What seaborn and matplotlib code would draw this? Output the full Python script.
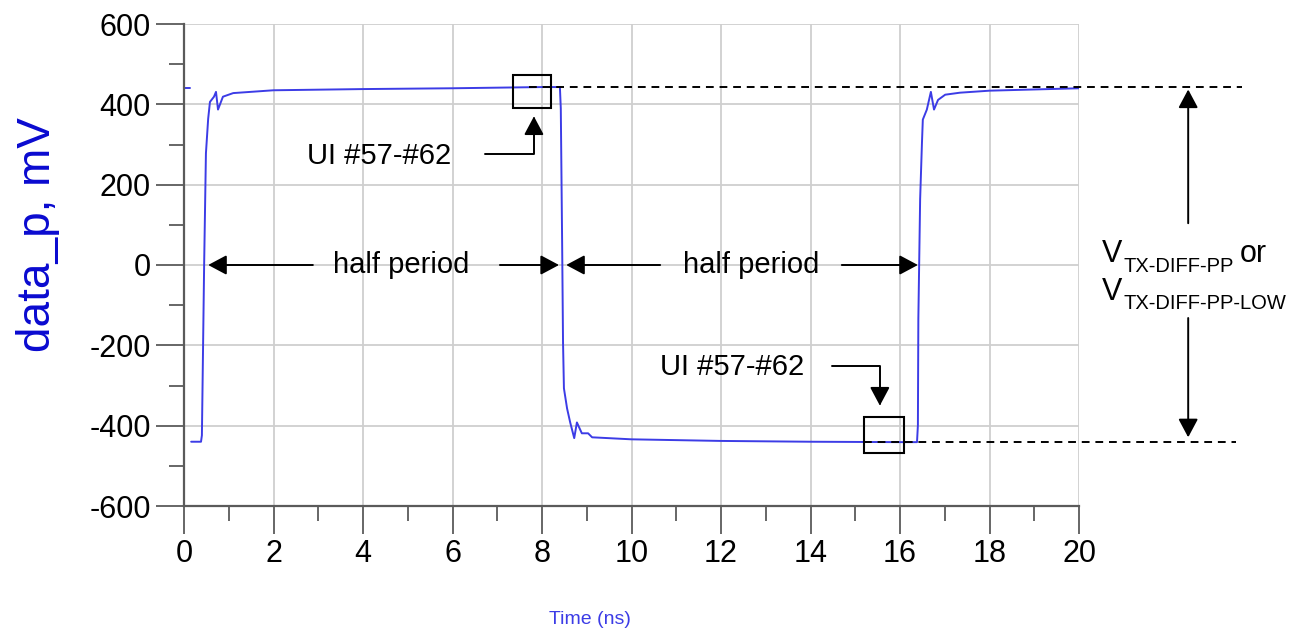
import numpy as np
import pandas as pd
import matplotlib
matplotlib.use("Agg")
import matplotlib.pyplot as plt
from matplotlib.patches import Rectangle
from matplotlib.ticker import MultipleLocator
import seaborn as sns

# waveform (ns, mV); segment 0 is the short stub at t=0
time_ns = [0.0, 0.13,
           0.16, 0.38, 0.40, 0.45, 0.49, 0.54, 0.58, 0.67, 0.715, 0.76, 0.87, 1.10, 2.0, 4.0, 6.0, 8.0,
           8.40, 8.42, 8.45, 8.47, 8.49, 8.56, 8.63, 8.72, 8.78, 8.89, 9.03, 9.12, 9.30, 10.0, 12.0, 14.0, 16.0,
           16.38, 16.40, 16.41, 16.45, 16.49, 16.51, 16.60, 16.69, 16.76, 16.85, 17.01, 17.34, 18.0, 19.0, 20.0]
data_p_mv = [440, 440,
             -440, -440, -424, 0, 278, 364, 406, 419, 431, 387, 419, 428, 435, 438, 440, 443,
             443, 390, 55, -193, -307, -357, -392, -431, -392, -419, -419, -429, -430, -434, -438, -440, -441,
             -441, -399, -134, 164, 302, 362, 387, 431, 387, 411, 424, 429, 434, 437, 440]
segment = [0, 0] + [1] * (len(time_ns) - 2)

x_ticks = list(range(0, 21, 2))
y_ticks = list(range(-600, 601, 200))
v_high, v_low = 442, -440
box_ui = [(7.35, 390, 0.85, 83), (15.2, -468, 0.9, 90)]

W, H = 1297, 633
TRACE = "#3c3ce6"

sns.set_style("white")
plt.rcParams["font.family"] = ["Liberation Sans", "DejaVu Sans"]
plt.rcParams["axes.unicode_minus"] = False
plt.rcParams["text.color"] = "black"
plt.rcParams["xtick.labelcolor"] = "black"
plt.rcParams["ytick.labelcolor"] = "black"

fig = plt.figure(figsize=(W / 100, H / 100), dpi=100)
ax = fig.add_axes([184 / W, (H - 506) / H, (1079 - 184) / W, (506 - 24) / H])

df = pd.DataFrame({"t": time_ns, "v": data_p_mv, "seg": segment})
sns.lineplot(data=df, x="t", y="v", units="seg", estimator=None, sort=False,
             color=TRACE, linewidth=1.4, ax=ax)

ax.set_xlim(0, 20)
ax.set_ylim(-600, 600)
ax.set_xticks(x_ticks)
ax.set_yticks(y_ticks)
ax.xaxis.set_minor_locator(MultipleLocator(1))
ax.yaxis.set_minor_locator(MultipleLocator(100))
ax.grid(True, which="major", color="#cfcfcf", linewidth=1.3)
ax.set_axisbelow(True)
for s in ["top", "right"]:
    ax.spines[s].set_visible(False)
for s in ["left", "bottom"]:
    ax.spines[s].set_color("#5a5a5a")
    ax.spines[s].set_linewidth(1.6)
ax.tick_params(which="major", direction="out", length=20, width=1.3, color="#5a5a5a",
               labelsize=22, labelcolor="black", pad=4, left=True, bottom=True)
ax.tick_params(which="minor", direction="out", length=11, width=1.3, color="#5a5a5a",
               left=True, bottom=True)
ax.set_xlabel("")
ax.set_ylabel("")

# boxes around UI #57-#62
for bx, by, bw, bh in box_ui:
    ax.add_patch(Rectangle((bx, by), bw, bh, fill=False, edgecolor="black", linewidth=1.5, zorder=4))

# dashed reference levels
ax.plot([7.7, 23.65], [v_high, v_high], color="black", linestyle=(0, (4, 3)), linewidth=1.4,
        clip_on=False, zorder=3)
ax.plot([15.2, 23.5], [v_low, v_low], color="black", linestyle=(0, (4, 3)), linewidth=1.4,
        clip_on=False, zorder=3)

arrow = dict(arrowstyle="-|>,head_length=0.75,head_width=0.4", mutation_scale=15,
             color="black", linewidth=1.4, shrinkA=0, shrinkB=0)
fs = 21

# half period arrows
for tail, head in [(2.88, 0.54), (7.06, 8.38), (10.64, 8.54), (14.70, 16.40)]:
    ax.annotate("", xy=(head, 0), xytext=(tail, 0), arrowprops=arrow, annotation_clip=False)
ax.text(4.85, 0, "half period", fontsize=fs, ha="center", va="center")
ax.text(12.67, 0, "half period", fontsize=fs, ha="center", va="center")

# UI labels with elbow arrows
ax.text(4.35, 272, "UI #57-#62", fontsize=fs, ha="center", va="center")
ax.annotate("", xy=(7.82, 370), xytext=(6.73, 277),
            arrowprops=dict(arrow, connectionstyle="angle,angleA=0,angleB=90,rad=0"))
ax.text(12.25, -253, "UI #57-#62", fontsize=fs, ha="center", va="center")
ax.annotate("", xy=(15.55, -350), xytext=(14.48, -251),
            arrowprops=dict(arrow, connectionstyle="angle,angleA=0,angleB=90,rad=0"))

# peak-to-peak arrows on the right
ax.annotate("", xy=(22.44, 437), xytext=(22.44, 104), arrowprops=arrow, annotation_clip=False)
ax.annotate("", xy=(22.44, -429), xytext=(22.44, -132), arrowprops=arrow, annotation_clip=False)


def px(x, y):
    return x / W, 1 - y / H


fig.text(*px(1102, 262), "V", fontsize=22, ha="left", va="baseline")
fig.text(*px(1124, 272), "TX-DIFF-PP", fontsize=14.5, ha="left", va="baseline")
fig.text(*px(1240, 262), "or", fontsize=22, ha="left", va="baseline")
fig.text(*px(1102, 300), "V", fontsize=22, ha="left", va="baseline")
fig.text(*px(1124, 309), "TX-DIFF-PP-LOW", fontsize=14.5, ha="left", va="baseline")

# axis titles
fig.text(*px(38, 235), "data_p, mV", fontsize=33, color="#0a0ad0", rotation=90,
         ha="center", va="center")
fig.text(*px(590, 620), "Time (ns)", fontsize=14, color="#3c3ce6", ha="center", va="center")

fig.savefig("out.png", dpi=100)
